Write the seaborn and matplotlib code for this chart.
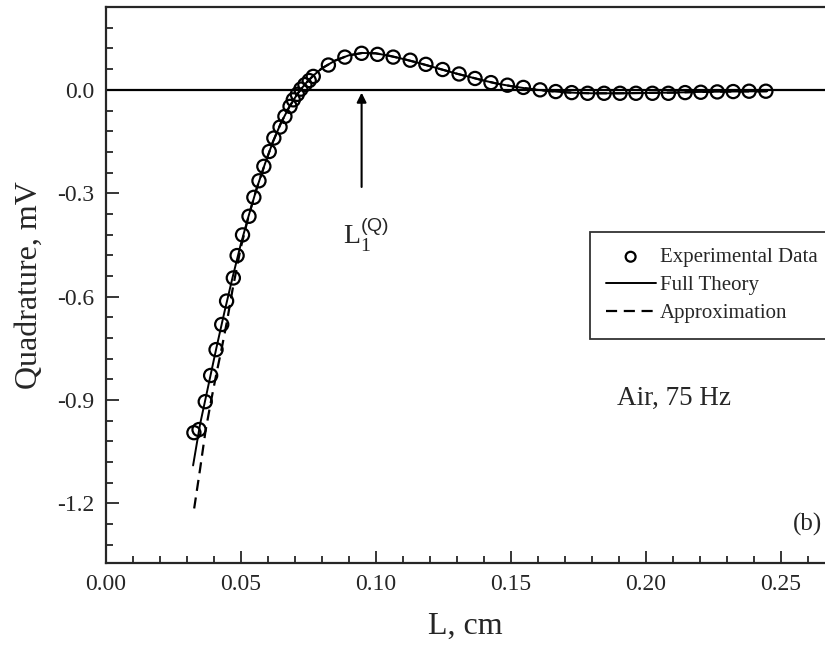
import matplotlib
matplotlib.use("Agg")
import matplotlib.pyplot as plt
import seaborn as sns
from matplotlib.ticker import MultipleLocator

# experimental points (L in cm, quadrature in mV)
exp_L = [0.0327, 0.0346, 0.0369, 0.0389, 0.0409, 0.0430, 0.0448, 0.0473, 0.0487,
         0.0507, 0.0531, 0.0549, 0.0568, 0.0586, 0.0606, 0.0623, 0.0646, 0.0664,
         0.0683, 0.0695, 0.0710, 0.0723, 0.0738, 0.0754, 0.0769, 0.0825, 0.0886,
         0.0948, 0.1007, 0.1065, 0.1128, 0.1186, 0.1248, 0.1309, 0.1368, 0.1427,
         0.1488, 0.1547, 0.1609, 0.1667, 0.1726, 0.1785, 0.1846, 0.1905, 0.1964,
         0.2025, 0.2084, 0.2146, 0.2204, 0.2265, 0.2324, 0.2383, 0.2445]
exp_Q = [-0.995, -0.986, -0.905, -0.829, -0.754, -0.681, -0.613, -0.546, -0.481,
         -0.421, -0.367, -0.312, -0.264, -0.222, -0.179, -0.140, -0.108, -0.077,
         -0.048, -0.029, -0.013, 0.002, 0.015, 0.027, 0.039, 0.072, 0.095,
         0.106, 0.103, 0.095, 0.086, 0.074, 0.059, 0.046, 0.033, 0.021,
         0.0135, 0.007, 0.0, -0.005, -0.008, -0.010, -0.010, -0.010, -0.010,
         -0.010, -0.010, -0.008, -0.007, -0.006, -0.005, -0.004, -0.004]

# full theory curve
theory_L = [0.0324, 0.035, 0.038, 0.041, 0.044, 0.047, 0.050, 0.053, 0.056, 0.059,
            0.062, 0.065, 0.068, 0.071, 0.074, 0.077, 0.080, 0.085, 0.090, 0.095,
            0.100, 0.105, 0.110, 0.115, 0.120, 0.125, 0.130, 0.135, 0.140, 0.145,
            0.150, 0.155, 0.160, 0.165, 0.170, 0.175, 0.180, 0.190, 0.200, 0.210,
            0.220, 0.230, 0.245]
theory_Q = [-1.09, -0.97, -0.86, -0.75, -0.645, -0.545, -0.45, -0.365, -0.285, -0.215,
            -0.150, -0.095, -0.050, -0.012, 0.018, 0.042, 0.062, 0.085, 0.100, 0.107,
            0.106, 0.099, 0.090, 0.080, 0.069, 0.058, 0.047, 0.037, 0.027, 0.018,
            0.011, 0.005, 0.000, -0.004, -0.007, -0.009, -0.010, -0.010, -0.009, -0.008,
            -0.006, -0.005, -0.004]

# approximation: differs only at small L, then follows the full theory
approx_L = [0.0328, 0.035, 0.037, 0.039, 0.041, 0.043, 0.045, 0.047, 0.050] + theory_L[7:]
approx_Q = [-1.215, -1.10, -0.99, -0.905, -0.825, -0.75, -0.67, -0.58, -0.46] + theory_Q[7:]

sns.set_style("ticks")
plt.rcParams["font.family"] = ["Liberation Serif", "DejaVu Serif"]
plt.rcParams["mathtext.fontset"] = "custom"
plt.rcParams["mathtext.rm"] = "Liberation Serif"
plt.rcParams["mathtext.sf"] = "Liberation Sans"

fig = plt.figure(figsize=(8.25, 6.5), dpi=100)
ax = fig.add_axes([0.128, 0.134, 0.872, 0.855])

ax.axhline(0, color="black", lw=1.6, zorder=1)
sns.lineplot(x=theory_L, y=theory_Q, ax=ax, color="black", lw=1.4,
             label="Full Theory", sort=False, zorder=2)
sns.lineplot(x=approx_L, y=approx_Q, ax=ax, color="black", lw=1.6,
             linestyle=(0, (5, 3)), label="Approximation", sort=False, zorder=2)
sns.scatterplot(x=exp_L, y=exp_Q, ax=ax, marker="o", s=90, facecolor="none",
                edgecolor="black", linewidth=1.6, label="Experimental Data", zorder=3)

ax.set_xlim(0, 0.2664)
ax.set_ylim(-1.373, 0.24)
ax.xaxis.set_major_locator(MultipleLocator(0.05))
ax.xaxis.set_minor_locator(MultipleLocator(0.01))
ax.yaxis.set_major_locator(MultipleLocator(0.3))
ax.yaxis.set_minor_locator(MultipleLocator(0.06))
ax.xaxis.set_major_formatter(plt.FormatStrFormatter("%.2f"))
ax.yaxis.set_major_formatter(plt.FormatStrFormatter("%.1f"))
ax.tick_params(which="both", direction="in", width=1.3, labelsize=17, top=False)
ax.tick_params(which="major", length=9, pad=8)
ax.tick_params(which="minor", length=5)
for s in ["left", "bottom", "top"]:
    ax.spines[s].set_linewidth(1.6)
ax.spines["right"].set_visible(False)

ax.set_xlabel("L, cm", fontsize=23, labelpad=12)
ax.set_ylabel("Quadrature, mV", fontsize=23, labelpad=10)

# arrow marking the first zero of the quadrature
ax.annotate("", xy=(0.0948, 0.0), xytext=(0.0948, -0.29),
            arrowprops=dict(arrowstyle="-|>", color="black", lw=1.5, mutation_scale=14))
ax.text(0.0965, -0.42, r"$\mathrm{L}_{\mathrm{1}}^{\mathsf{(Q)}}$", fontsize=20,
        ha="center", va="center")

ax.text(0.1895, -0.895, "Air, 75 Hz", fontsize=19.5, va="center")
ax.text(0.2545, -1.26, "(b)", fontsize=18, va="center")

handles, labels = ax.get_legend_handles_labels()
order = [labels.index("Experimental Data"), labels.index("Full Theory"),
         labels.index("Approximation")]
leg = ax.legend([handles[i] for i in order], [labels[i] for i in order],
                loc="upper left", bbox_to_anchor=(590 / 825, 1 - 232 / 650),
                bbox_transform=fig.transFigure, fontsize=15, frameon=True,
                fancybox=False, edgecolor="black", handlelength=2.4,
                handletextpad=0.2, borderpad=0.75, labelspacing=0.4,
                borderaxespad=0, markerscale=0.75)
leg.get_frame().set_linewidth(1.3)

fig.savefig("out.png", dpi=100)
